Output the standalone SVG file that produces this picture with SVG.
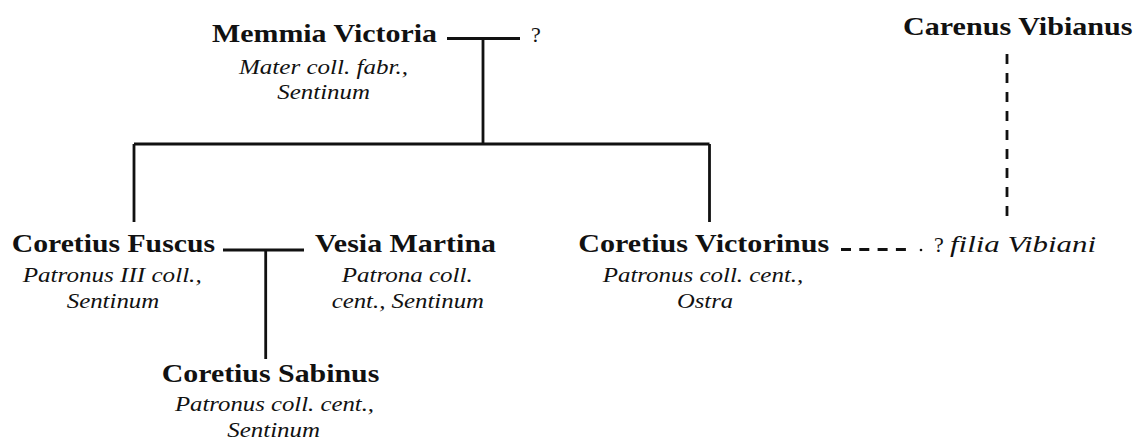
<svg xmlns="http://www.w3.org/2000/svg" width="1136" height="441" viewBox="0 0 1136 441" font-family="Liberation Serif, 'Times New Roman', serif">
<style>
text{fill:#111}
.n{font-weight:700;font-size:25.5px}
.s{font-style:italic;font-size:20.5px}
.q{font-size:22px}
.l{stroke:#111;stroke-width:2.8;fill:none}
.d{stroke:#111;stroke-width:2.8;fill:none;stroke-dasharray:10 8.3}
</style>
<rect width="1136" height="441" fill="#fff"/>
<g id="connectors">
<path class="l" d="M447 38.5H520M483 38.5V144M134 144H709.5M134 144V222M709.5 144V222"/>
<path class="l" d="M223 250H304M265.7 250V359"/>
<path class="d" d="M841 249.5H908"/>
<circle cx="921" cy="250" r="1.3" fill="#111"/>
<path class="d" style="stroke-dasharray:10 9" d="M1007 54V222"/>
</g>
<g id="memmia">
<text class="n" x="212" y="42" textLength="225" lengthAdjust="spacingAndGlyphs">Memmia Victoria</text>
<text class="s" x="239" y="74" textLength="169" lengthAdjust="spacingAndGlyphs">Mater coll. fabr.,</text>
<text class="s" x="277.3" y="99" textLength="92.7" lengthAdjust="spacingAndGlyphs">Sentinum</text>
</g>
<g id="unknown">
<text class="q" x="531" y="42">?</text>
</g>
<g id="carenus">
<text class="n" x="903" y="35" textLength="229.5" lengthAdjust="spacingAndGlyphs">Carenus Vibianus</text>
</g>
<g id="fuscus">
<text class="n" x="11.7" y="252" textLength="203.3" lengthAdjust="spacingAndGlyphs">Coretius Fuscus</text>
<text class="s" x="22.7" y="282" textLength="179" lengthAdjust="spacingAndGlyphs">Patronus III coll.,</text>
<text class="s" x="66.7" y="308" textLength="92.6" lengthAdjust="spacingAndGlyphs">Sentinum</text>
</g>
<g id="vesia">
<text class="n" x="315" y="252" textLength="181" lengthAdjust="spacingAndGlyphs">Vesia Martina</text>
<text class="s" x="341.7" y="282" textLength="131" lengthAdjust="spacingAndGlyphs">Patrona coll.</text>
<text class="s" x="331.7" y="308" textLength="152.3" lengthAdjust="spacingAndGlyphs">cent., Sentinum</text>
</g>
<g id="victorinus">
<text class="n" x="578.3" y="252" textLength="251" lengthAdjust="spacingAndGlyphs">Coretius Victorinus</text>
<text class="s" x="602.7" y="282" textLength="200.6" lengthAdjust="spacingAndGlyphs">Patronus coll. cent.,</text>
<text class="s" x="677" y="308" textLength="56" lengthAdjust="spacingAndGlyphs">Ostra</text>
</g>
<g id="filia">
<text class="q" x="934" y="252">?</text>
<text class="s" x="950" y="252" style="font-size:22.5px" textLength="146" lengthAdjust="spacingAndGlyphs">filia Vibiani</text>
</g>
<g id="sabinus">
<text class="n" x="161.7" y="382" textLength="217.6" lengthAdjust="spacingAndGlyphs">Coretius Sabinus</text>
<text class="s" x="175" y="410.7" textLength="199" lengthAdjust="spacingAndGlyphs">Patronus coll. cent.,</text>
<text class="s" x="227.3" y="436.7" textLength="92.7" lengthAdjust="spacingAndGlyphs">Sentinum</text>
</g>
</svg>
